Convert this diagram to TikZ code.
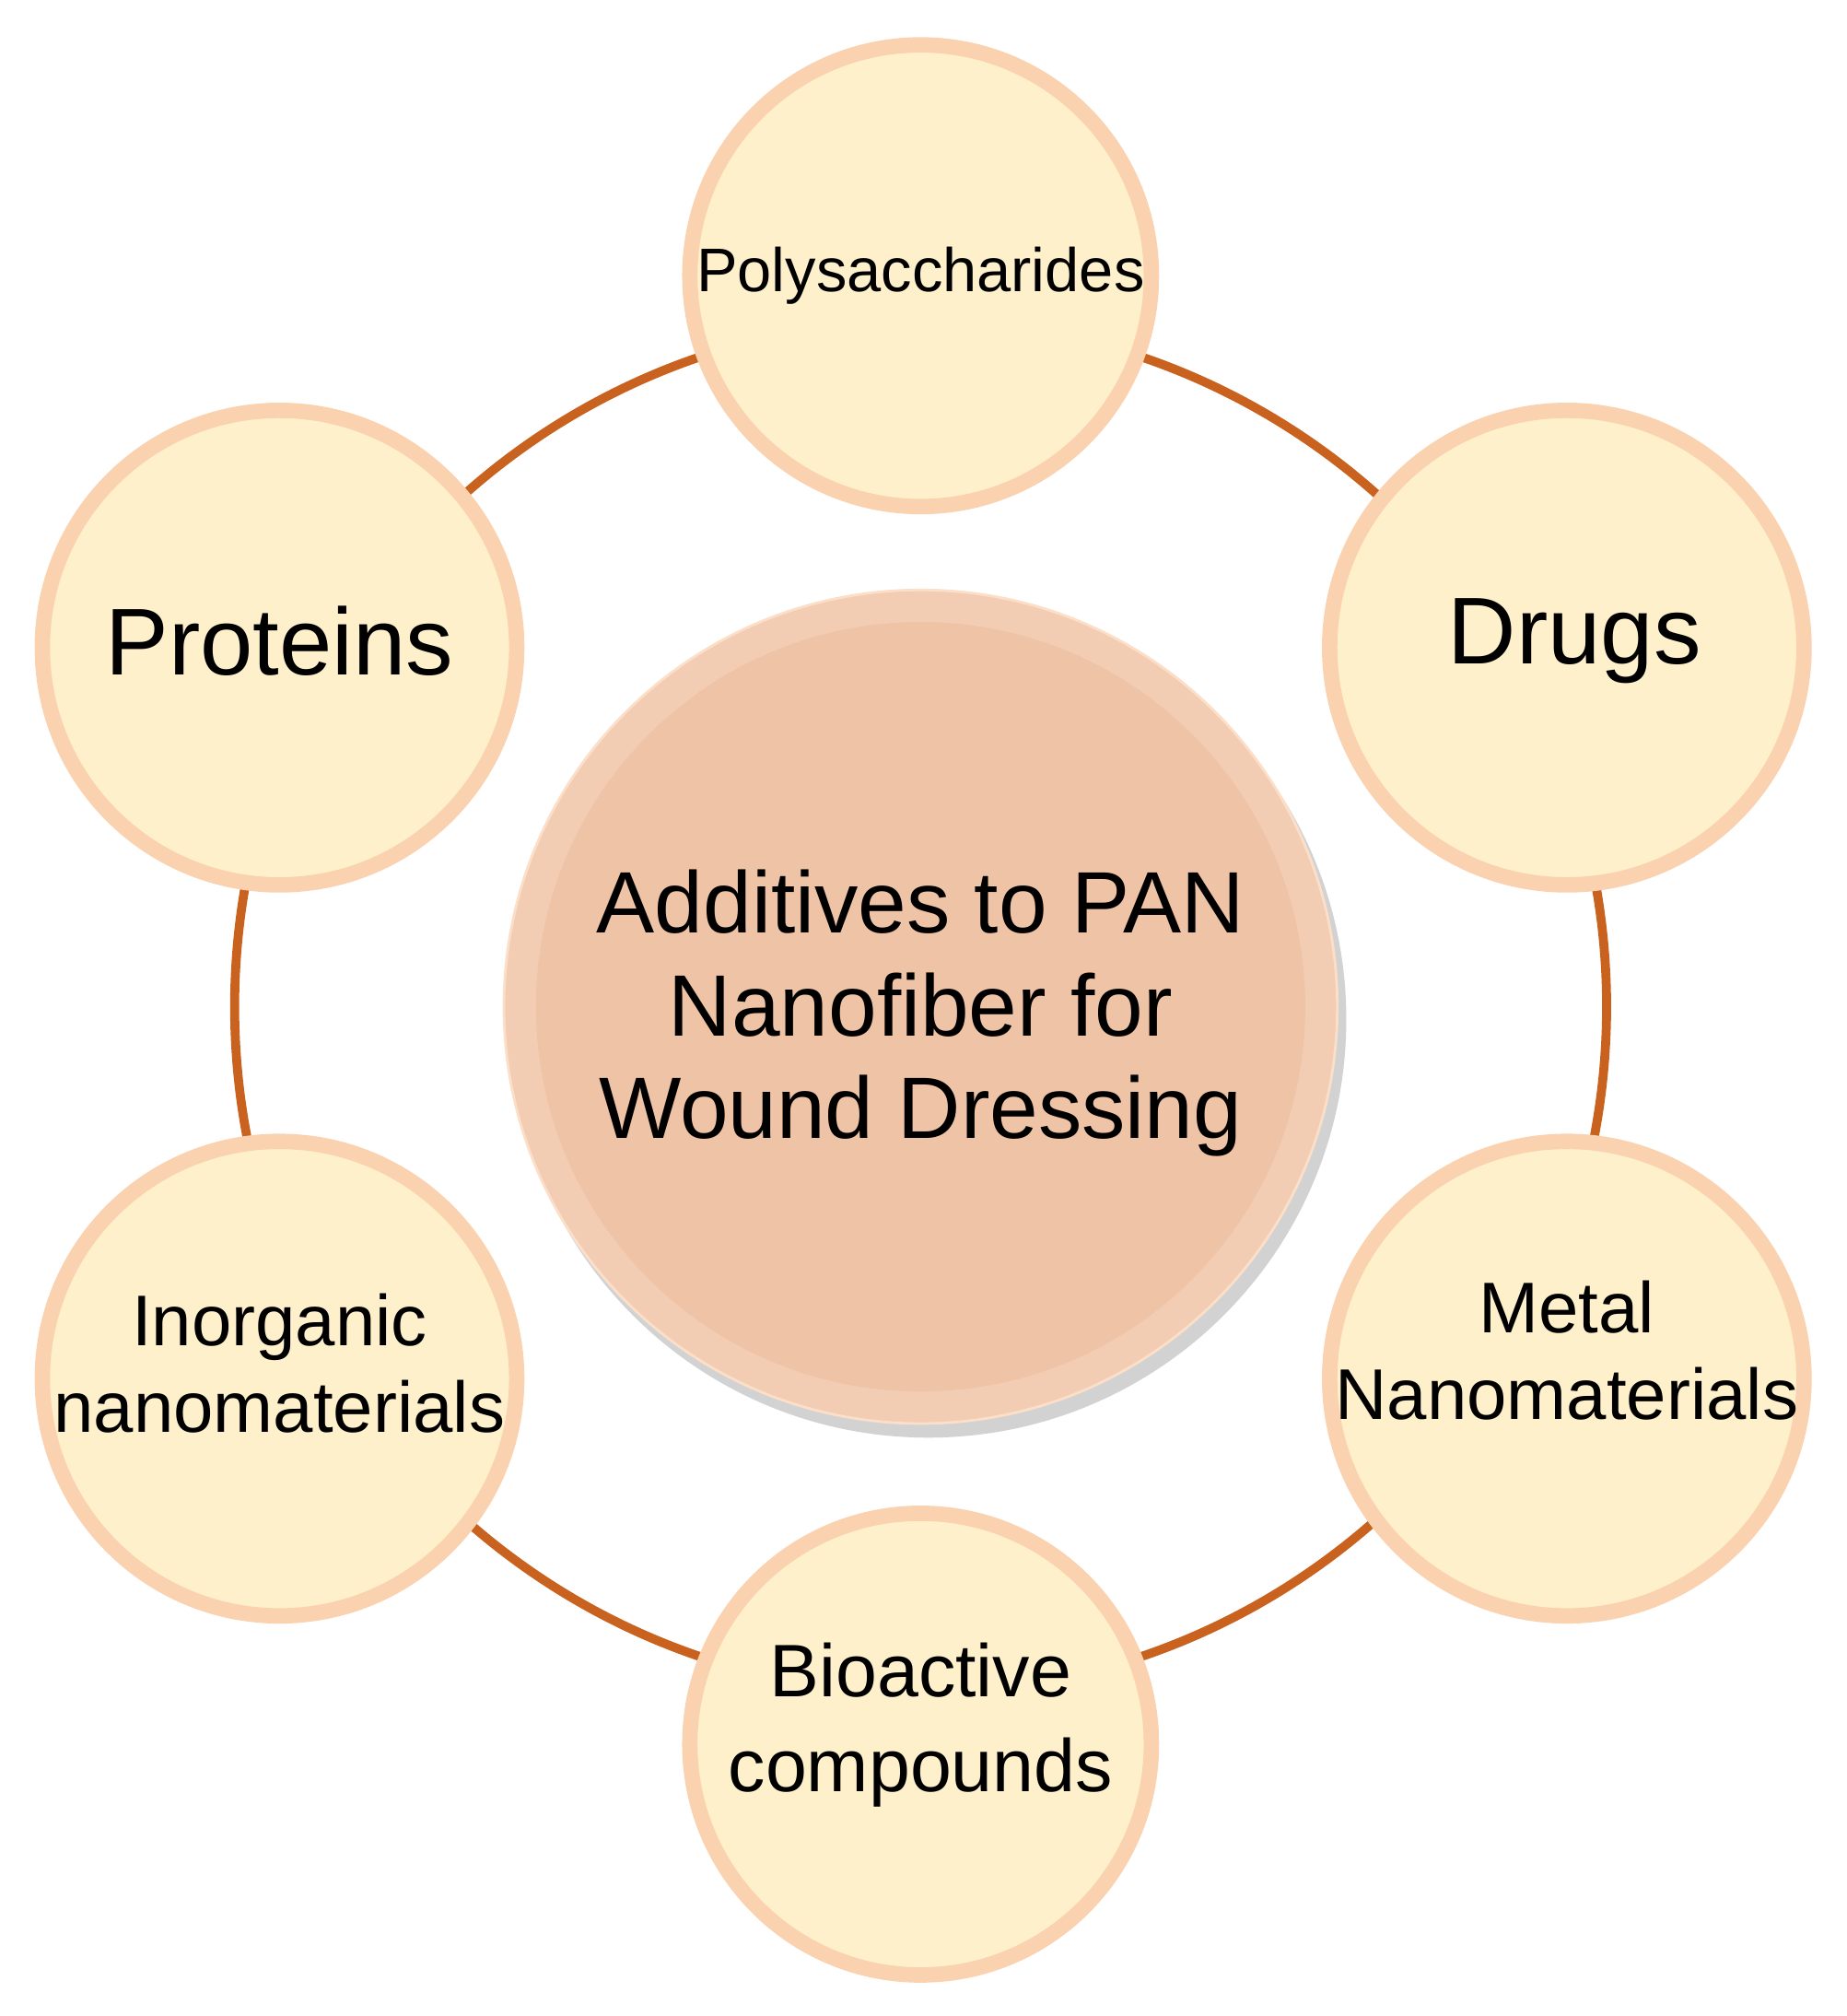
\documentclass[tikz,border=0pt]{standalone}
\usepackage{fontspec}
\setmainfont{Liberation Sans}
\begin{document}
\begin{tikzpicture}[x=0.5pt,y=-0.5pt,
  sat/.style={circle,draw=halo,line width=6pt,fill=satfill,minimum size=#1*0.5pt,inner sep=0pt,align=center},
  lbl/.style={align=center,text=black}]
\definecolor{halo}{HTML}{FAD2B0}
\definecolor{satfill}{HTML}{FFF0CC}
\definecolor{ring}{HTML}{C8621E}
\definecolor{cfill}{HTML}{EFC3A6}
\definecolor{crim}{HTML}{F3CDB3}
\useasboundingbox (0,0) rectangle (1440,1572);
\coordinate (c) at (718,785);
\draw[ring,line width=3.5pt] (c) circle[radius=267.5pt];
% center
\fill[gray!35] (724,795) circle[radius=163pt];
\node[circle,fill=crim,draw=halo!70,line width=1pt,minimum size=325pt,inner sep=0pt] (ctr) at (c) {};
\fill[cfill] (c) circle[radius=150pt];
\node[lbl,font=\fontsize{34}{40}\selectfont] (ctrt) at (718,790) {Additives to PAN\\Nanofiber for\\Wound Dressing};
\node[sat=360] (poly) at (718,215) {};
\node[sat=370] (prot) at (218,505) {};
\node[sat=370] (drug) at (1222,505) {};
\node[sat=370] (inor) at (218,1075) {};
\node[sat=370] (meta) at (1222,1075) {};
\node[sat=360] (bio) at (718,1360) {};
\node[lbl,font=\fontsize{24}{28}\selectfont] at (718,215) {Polysaccharides};
\node[lbl,font=\fontsize{37}{44}\selectfont] at (218,500) {Proteins};
\node[lbl,font=\fontsize{37}{44}\selectfont] at (1228,500) {Drugs};
\node[lbl,font=\fontsize{28}{34}\selectfont] at (218,1063) {Inorganic\\nanomaterials};
\node[lbl,font=\fontsize{28}{34}\selectfont] at (1222,1053) {Metal\\Nanomaterials};
\node[lbl,font=\fontsize{29}{37}\selectfont] at (718,1345) {Bioactive\\compounds};
\end{tikzpicture}
\end{document}
